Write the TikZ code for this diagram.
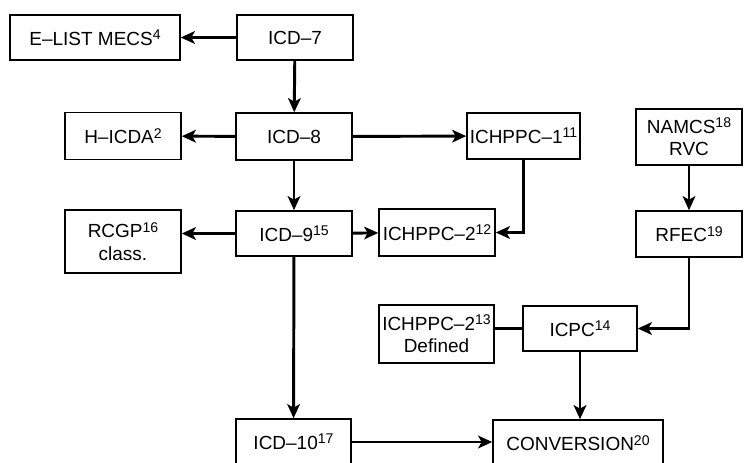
\documentclass[tikz,border=0pt]{standalone}
\usepackage{fontspec}
\setmainfont{Liberation Sans}
\usetikzlibrary{arrows.meta}
\newcommand{\fnref}[1]{\raisebox{0.55ex}{\fontsize{10}{10}\selectfont #1}}

\begin{document}
\begin{tikzpicture}[x=0.025cm,y=-0.025cm,
    box/.style={draw,line width=1.1pt,inner sep=0pt,align=center,
      font=\fontsize{13.5}{16}\selectfont},
    flow/.style={line width=2.1pt,-{Stealth[length=10pt,width=9pt,inset=2.5pt]}},
    tie/.style={line width=2.1pt}]
   \useasboundingbox (0,0) rectangle (744,462);
   \clip (0,0) rectangle (744,462);

   % left column
   \node[box,minimum width=170*0.025cm,minimum height=45*0.025cm] (elist) at (95,37.5) {E--LIST MECS\fnref{4}};
   \node[box,minimum width=116*0.025cm,minimum height=47*0.025cm] (hicda) at (123,136) {H--ICDA\fnref{2}};
   \node[box,minimum width=116*0.025cm,minimum height=63*0.025cm] (rcgp) at (123,241.5) {RCGP\fnref{16}\\class.};

   % ICD line
   \node[box,minimum width=116*0.025cm,minimum height=45*0.025cm] (icd7) at (295,37.5) {ICD--7};
   \node[box,minimum width=116*0.025cm,minimum height=47*0.025cm] (icd8) at (294,136.5) {ICD--8};
   \node[box,minimum width=116*0.025cm,minimum height=45*0.025cm] (icd9) at (294,233.5) {ICD--9\fnref{15}};
   \node[box,minimum width=115*0.025cm,minimum height=46*0.025cm] (icd10) at (293.5,442) {ICD--10\fnref{17}};

   % ICHPPC / ICPC
   \node[box,minimum width=113*0.025cm,minimum height=46*0.025cm] (ichppc1) at (523.5,136) {ICHPPC--1\fnref{11}};
   \node[box,minimum width=116*0.025cm,minimum height=47*0.025cm] (ichppc2) at (437,232.5) {ICHPPC--2\fnref{12}};
   \node[box,minimum width=115*0.025cm,minimum height=58*0.025cm] (ichppcdef) at (436.5,334) {ICHPPC--2\fnref{13}\\Defined};
   \node[box,minimum width=114*0.025cm,minimum height=45*0.025cm] (icpc) at (580,328.5) {ICPC\fnref{14}};
   \node[box,minimum width=170*0.025cm,minimum height=46*0.025cm] (conv) at (578,443) {CONVERSION\fnref{20}};

   % right column
   \node[box,minimum width=106*0.025cm,minimum height=56*0.025cm] (namcs) at (689,137) {NAMCS\fnref{18}\\RVC};
   \node[box,minimum width=106*0.025cm,minimum height=46*0.025cm] (rfec) at (689,234) {RFEC\fnref{19}};

   \draw[flow] (icd7) -- (elist);
   \draw[flow] (icd7) -- (icd8);
   \draw[flow] (icd8) -- (hicda);
   \draw[flow] (icd8) -- (ichppc1);
   \draw[flow] (icd8) -- (icd9);
   \draw[flow] (icd9.west) -- (icd9.west -| rcgp.east);
   \draw[flow] (icd9) -- (ichppc2);
   \draw[flow] (ichppc1.south) |- (ichppc2.east);
   \draw[flow] (icd9) -- (icd10);
   \draw[flow] (icd10.east) -- (icd10.east -| conv.west);

   \draw[flow] (namcs) -- (rfec);
   \draw[flow] (rfec.south) |- (icpc.east);
   \draw[tie] (icpc.west -| ichppcdef.east) -- (icpc.west);
   \draw[flow] (icpc.south) -- (icpc.south |- conv.north);

\end{tikzpicture}
\end{document}
